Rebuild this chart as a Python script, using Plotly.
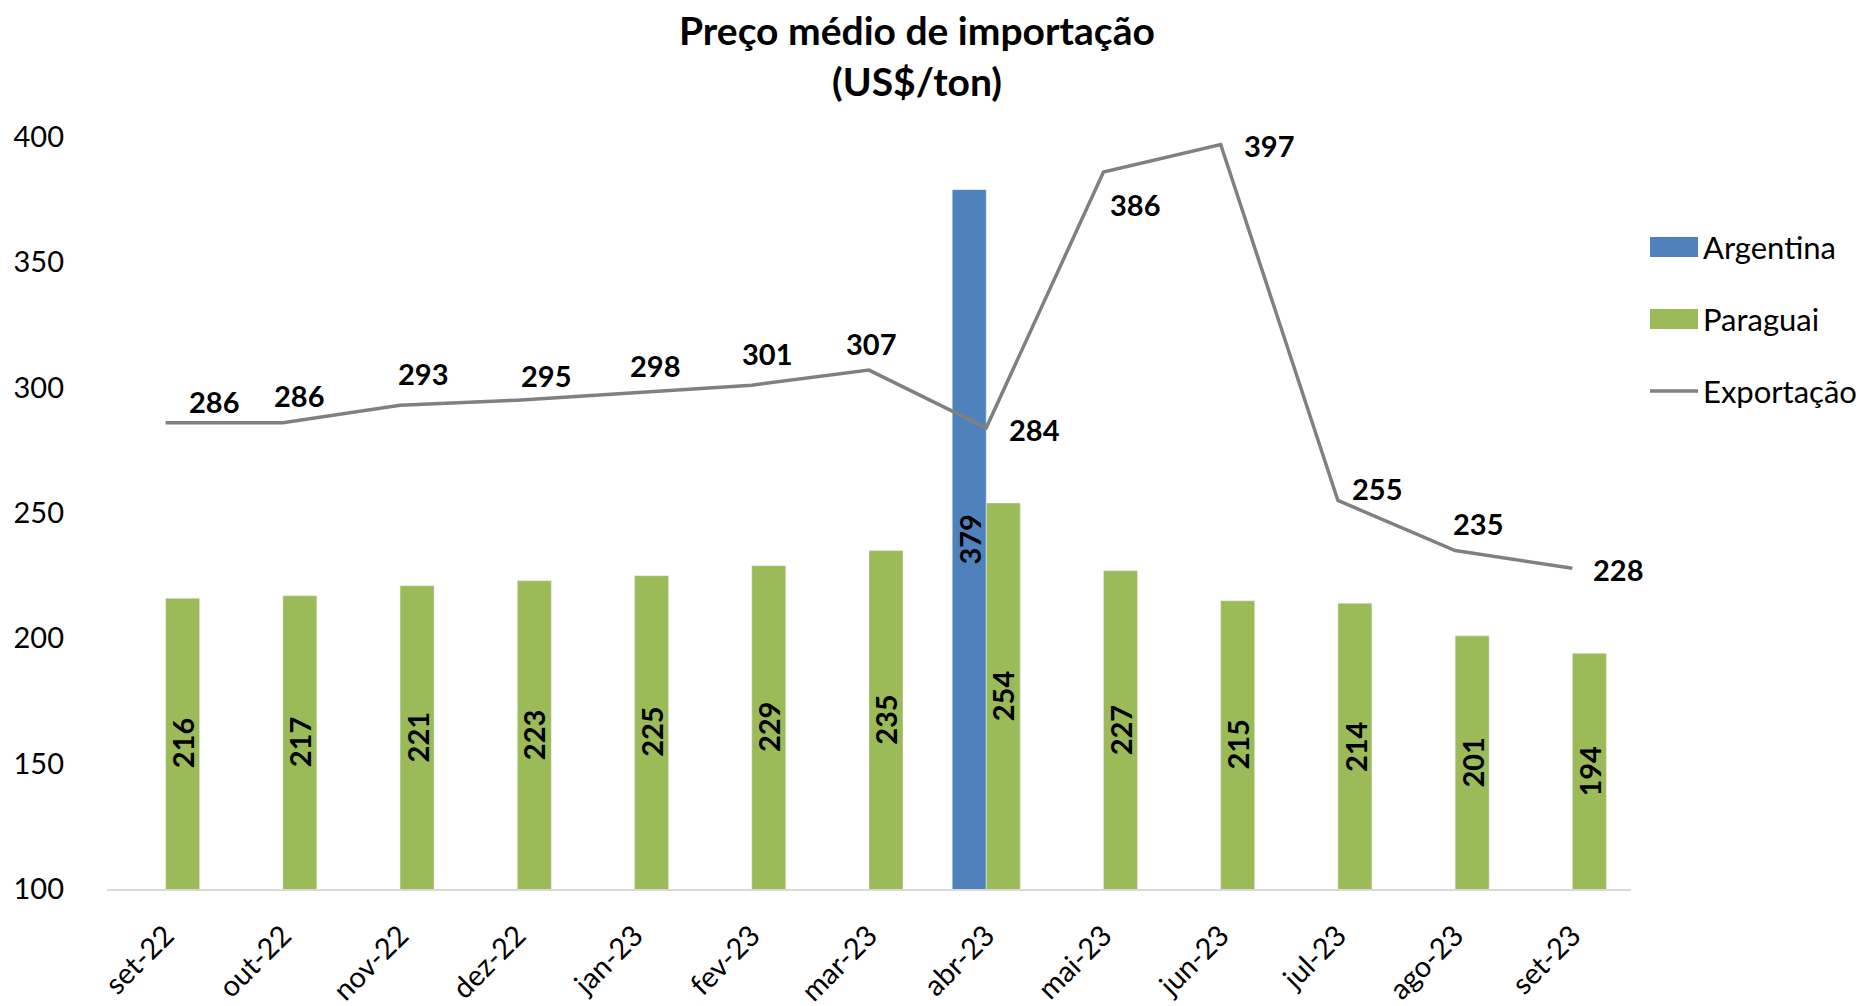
import plotly.graph_objects as go

categories = ["set-22", "out-22", "nov-22", "dez-22", "jan-23", "fev-23", "mar-23",
              "abr-23", "mai-23", "jun-23", "jul-23", "ago-23", "set-23"]
argentina = [None, None, None, None, None, None, None, 379, None, None, None, None, None]
paraguai = [216, 217, 221, 223, 225, 229, 235, 254, 227, 215, 214, 201, 194]
exportacao = [286, 286, 293, 295, 298, 301, 307, 284, 386, 397, 255, 235, 228]
y_ticks = [100, 150, 200, 250, 300, 350, 400]
title_lines = ["Preço médio de importação", "(US$/ton)"]
Y_MIN, Y_MAX = 100, 400

# label offsets (px) for line labels: (xshift, yshift)
line_label_shift = [(48, 21), (16, 27), (23, 32), (29, 25), (20, 27), (15, 32), (2, 27),
                    (48, -2), (32, -32), (48, -1), (39, 12), (23, 27), (46, -1)]

FONT = "Lato"
BLUE = "#4F81BD"
GREEN = "#9BBB59"
GRAY = "#808080"
BAR_HALF = 17  # half a bar width in px, to centre labels on each bar

fig = go.Figure()
fig.add_trace(go.Bar(x=categories, y=argentina, name="Argentina",
                     marker_color=BLUE, showlegend=False))
fig.add_trace(go.Bar(x=categories, y=paraguai, name="Paraguai",
                     marker_color=GREEN, showlegend=False))
fig.add_trace(go.Scatter(x=categories, y=exportacao, name="Exportação", mode="lines",
                         line=dict(color=GRAY, width=3.5), showlegend=False))

annotations = []
bold = dict(family=FONT, size=29, color="black", weight="bold")
for c, v, (dx, dy) in zip(categories, exportacao, line_label_shift):
    annotations.append(dict(x=c, y=v, xref="x", yref="y", text=str(v), showarrow=False,
                            xshift=dx, yshift=dy, font=bold))
for series, sx in ((argentina, -BAR_HALF), (paraguai, BAR_HALF)):
    for c, v in zip(categories, series):
        if v is None:
            continue
        annotations.append(dict(x=c, y=(Y_MIN + v) / 2, xref="x", yref="y", text=str(v),
                                showarrow=False, textangle=-90, xshift=sx, font=bold))

# page offset (browser body margin) compensation
OFF = 8
W, H = 1864 - OFF, 1006 - OFF
L, R, T, B = 107 - OFF, 233, 137 - OFF, 117
pw, ph = W - L - R, H - T - B


def px(xp):
    return (xp - OFF - L) / pw


def py(yp):
    return (H - B - (yp - OFF)) / ph


# title as two centred lines
for line, yc in zip(title_lines, (30, 81)):
    annotations.append(dict(x=px(917), y=py(yc), xref="paper", yref="paper", text=line,
                            showarrow=False, xanchor="center", yanchor="middle",
                            font=dict(family=FONT, size=39, color="black", weight="bold")))

legend_items = [("Argentina", BLUE, "rect", 247), ("Paraguai", GREEN, "rect", 319),
                ("Exportação", GRAY, "line", 391)]
shapes = []
for name, col, kind, yc in legend_items:
    if kind == "rect":
        shapes.append(dict(type="rect", xref="paper", yref="paper",
                           x0=px(1650), x1=px(1698), y0=py(yc + 10), y1=py(yc - 10),
                           fillcolor=col, line=dict(width=0)))
    else:
        shapes.append(dict(type="line", xref="paper", yref="paper",
                           x0=px(1650), x1=px(1698), y0=py(yc), y1=py(yc),
                           line=dict(color=col, width=3.5)))
    annotations.append(dict(x=px(1701), y=py(yc), xref="paper", yref="paper",
                            text=name, showarrow=False, xanchor="left", yanchor="middle",
                            font=dict(family=FONT, size=31, color="black")))

fig.update_layout(
    width=W, height=H,
    margin=dict(l=L, r=R, t=T, b=B, autoexpand=False),
    paper_bgcolor="white", plot_bgcolor="white",
    barmode="group", bargap=0.42, bargroupgap=0,
    font=dict(family=FONT, size=29, color="black"),
    xaxis=dict(range=[-0.5, len(categories) - 0.5],
               showline=True, linecolor="#D9D9D9", linewidth=2, showgrid=False,
               tickangle=-45, ticks="", ticklabelstandoff=16, automargin=False,
               tickfont=dict(family=FONT, size=29, color="black")),
    yaxis=dict(range=[Y_MIN, Y_MAX], tickvals=y_ticks, showgrid=False, showline=False,
               zeroline=False, ticks="", ticklabelstandoff=42, automargin=False,
               tickfont=dict(family=FONT, size=29, color="black")),
    shapes=shapes, annotations=annotations,
)

fig.write_html("out.html")
